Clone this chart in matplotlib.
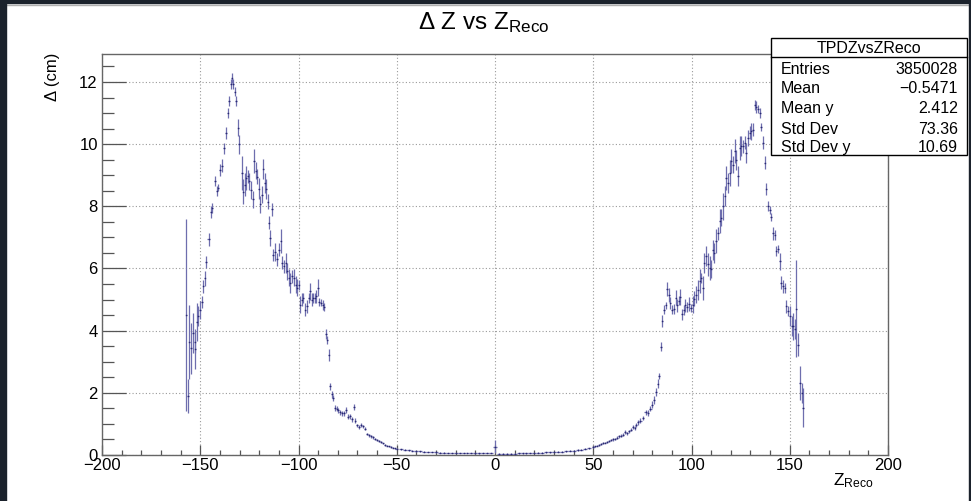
import numpy as np
import matplotlib
matplotlib.use("Agg")
import matplotlib.pyplot as plt
from matplotlib.patches import Rectangle
from matplotlib.lines import Line2D
from matplotlib.ticker import MultipleLocator

plt.rcParams['font.family'] = ['Liberation Sans', 'DejaVu Sans']
plt.rcParams['mathtext.fontset'] = 'custom'
plt.rcParams['mathtext.rm'] = 'Liberation Sans'
plt.rcParams['mathtext.it'] = 'Liberation Sans'
plt.rcParams['mathtext.bf'] = 'Liberation Sans:bold'

# profile TPDZvsZReco : bin centre (cm), mean delta (cm), error on mean
z_reco = [
    -157.0, -156.3, -155.6, -154.8, -153.9, -152.9, -152.5, -151.8, -151.2, -150.3,
    -149.2, -148.5, -147.8, -146.9, -145.8, -144.4, -143.9, -142.7, -141.7, -141.0,
    -139.8, -139.0, -137.8, -136.9, -136.1, -135.2, -134.4, -133.9, -133.2, -132.5,
    -131.8, -130.6, -130.1, -128.8, -128.1, -127.4, -126.7, -125.9, -125.0, -124.0,
    -123.2, -122.7, -121.8, -121.2, -120.3, -119.4, -118.6, -117.9, -117.2, -116.5,
    -115.7, -115.2,
    -114.4, -113.5, -113.0, -112.2, -111.0, -110.0, -109.1, -108.3, -107.6, -106.6,
    -105.7, -104.9, -104.2, -103.2, -102.4, -101.5, -100.7, -100.0, -99.0, -98.1,
    -97.5, -96.5, -95.8, -94.9, -94.1, -93.2, -92.4, -91.6, -91.0, -90.2,
    -89.4, -88.5, -87.7, -86.8, -86.0, -85.3, -84.6, -84.0, -83.1, -82.3,
    -81.4, -80.5, -79.7, -78.9, -77.8, -76.9, -75.9, -75.0,
    -74, -73, -72, -71, -70, -69, -68, -67, -66, -65,
    -64, -63, -62, -61, -60, -59, -58, -57, -56, -55,
    -54, -53, -52, -51, -50,
    -48, -46, -44, -42, -40, -38, -36, -34, -32, -30,
    -28, -26, -24, -22, -20, -18, -16, -14, -12, -10,
    -8, -6, -4, -2, 0,
    2, 4, 6, 8, 10, 12, 14, 16, 18, 20,
    22, 24, 26, 28, 30, 32, 34, 36, 38, 40,
    42, 44, 46, 48,
    50, 51, 52, 53, 54, 55, 56, 57, 58, 59,
    60, 61, 62, 63, 64, 65, 66, 67, 68, 69,
    70, 71, 72, 73, 74,
    75.4, 76.7, 77.9, 79.1, 80.1, 81.0, 81.8, 82.7, 83.5, 84.4,
    85.2, 86.1, 86.8, 87.6, 88.5, 89.3, 90.2, 91.0, 91.9, 92.7,
    93.5, 94.4, 95.2, 96.1, 96.9, 97.8, 98.6, 99.5,
    100.7, 101.5, 102.4, 103.2, 104.1, 104.9, 105.8, 106.6, 107.5, 108.3,
    109.2, 110.0, 110.9, 111.7, 112.6, 113.4, 114.3, 115.1, 116.0, 116.8,
    117.7, 118.5, 119.4, 120.2, 121.1, 121.9, 122.8, 123.6, 124.5, 125.3,
    126.2, 127.0, 127.9, 128.7, 129.6, 130.4, 131.3, 132.1, 133.0, 133.8,
    134.7, 135.5, 136.4, 137.2, 138.1, 138.9, 139.8, 140.6, 141.5, 142.3,
    143.2, 144.0, 144.9, 145.7, 146.6, 147.4, 148.3, 149.1, 150.0, 150.9,
    151.7, 152.6, 153.4, 154.3, 155.1, 156.0, 156.8,
]

delta_z = [
    4.50, 1.90, 3.64, 3.43, 3.93, 3.64, 3.40, 4.28, 4.47, 4.66,
    4.93, 5.43, 5.68, 6.22, 6.94, 7.83, 7.95, 8.81, 8.49, 8.60,
    9.17, 9.30, 9.86, 10.35, 11.01, 11.39, 11.92, 12.14, 11.92, 11.69,
    11.39, 10.53, 9.99, 9.08, 8.47, 8.70, 8.92, 8.97, 8.81, 8.52,
    8.22, 9.46, 9.14, 8.95, 8.57, 8.06, 8.38, 9.19, 8.76, 8.55,
    8.15, 7.47,
    6.98, 7.90, 6.43, 6.53, 6.29, 6.60, 6.88, 6.18, 6.07, 6.18,
    5.91, 5.70, 5.54, 5.75, 5.70, 5.48, 5.38, 5.48, 4.84, 5.00,
    5.05, 4.68, 4.79, 5.05, 5.27, 5.00, 5.05, 5.05, 5.10, 5.38,
    4.93, 4.90, 4.84, 4.77, 3.88, 3.70, 3.21, 2.21, 1.95, 1.84,
    1.52, 1.49, 1.44, 1.38, 1.34, 1.34, 1.46, 1.23,
    1.25, 1.15, 1.55, 1.10, 0.95, 0.90, 0.97, 0.92, 0.85, 0.68,
    0.63, 0.60, 0.57, 0.52, 0.48, 0.44, 0.41, 0.37, 0.33, 0.30,
    0.28, 0.26, 0.24, 0.22, 0.20,
    0.18, 0.17, 0.15, 0.14, 0.12, 0.12, 0.11, 0.10, 0.10, 0.09,
    0.08, 0.08, 0.07, 0.07, 0.065, 0.065, 0.06, 0.06, 0.06, 0.055,
    0.055, 0.06, 0.06, 0.06, 0.27,
    0.04, 0.04, 0.04, 0.045, 0.045, 0.05, 0.05, 0.055, 0.06, 0.065,
    0.075, 0.08, 0.085, 0.09, 0.10, 0.10, 0.11, 0.12, 0.13, 0.14,
    0.16, 0.17, 0.20, 0.22,
    0.26, 0.28, 0.30, 0.33, 0.36, 0.38, 0.40, 0.43, 0.45, 0.48,
    0.50, 0.52, 0.56, 0.60, 0.62, 0.65, 0.74, 0.70, 0.76, 0.82,
    0.90, 0.86, 0.97, 1.05, 1.10,
    1.19, 1.38, 1.35, 1.49, 1.62, 1.76, 2.03, 2.30, 2.54, 3.49,
    4.30, 4.68, 4.81, 5.35, 5.14, 4.90, 4.68, 4.70, 5.06, 4.81,
    4.97, 5.08, 4.52, 4.65, 4.81, 4.76, 4.86, 4.73,
    4.84, 5.02, 5.16, 5.32, 5.59, 5.70, 5.38, 6.18, 6.39, 6.13,
    6.02, 5.99, 6.60, 6.50, 6.88, 7.14, 7.52, 7.63, 8.00, 8.32,
    8.91, 8.75, 9.07, 9.45, 9.34, 9.77, 9.50, 8.97, 9.88, 9.93,
    9.93, 10.04, 9.72, 10.20, 10.36, 10.41, 10.47, 11.27, 11.20, 11.13,
    11.00, 10.55, 10.04, 9.40, 8.56, 8.00, 7.87, 7.66, 7.14, 7.09,
    6.56, 6.63, 6.23, 5.54, 5.43, 5.38, 4.79, 4.63, 4.47, 4.14,
    4.14, 4.04, 4.71, 3.55, 2.32, 2.00, 1.52,
]

delta_err = [
    3.10, 0.56, 1.20, 0.83, 0.64, 0.35, 0.64, 0.62, 0.32, 0.30,
    0.19, 0.21, 0.24, 0.19, 0.21, 0.19, 0.16, 0.16, 0.16, 0.11,
    0.19, 0.21, 0.19, 0.19, 0.16, 0.16, 0.16, 0.16, 0.16, 0.14,
    0.16, 0.27, 0.32, 0.54, 0.40, 0.38, 0.38, 0.21, 0.27, 0.30,
    0.27, 0.38, 0.27, 0.24, 0.35, 0.27, 0.27, 0.32, 0.32, 0.32,
    0.24, 0.21,
    0.27, 0.21, 0.19, 0.30, 0.21, 0.21, 0.38, 0.21, 0.21, 0.32,
    0.27, 0.27, 0.32, 0.21, 0.27, 0.27, 0.27, 0.16, 0.27, 0.21,
    0.16, 0.21, 0.21, 0.16, 0.27, 0.21, 0.16, 0.16, 0.21, 0.27,
    0.13, 0.11, 0.16, 0.13, 0.16, 0.13, 0.19, 0.11, 0.11, 0.10,
    0.10, 0.08, 0.08, 0.08, 0.08, 0.08, 0.10, 0.08,
    0.08, 0.08, 0.10, 0.08, 0.06, 0.06, 0.06, 0.05, 0.05, 0.04,
    0.04, 0.04, 0.04, 0.04, 0.03, 0.03, 0.03, 0.03, 0.03, 0.02,
    0.02, 0.02, 0.02, 0.02, 0.02,
    0.015, 0.015, 0.015, 0.015, 0.015, 0.01, 0.01, 0.01, 0.01, 0.01,
    0.01, 0.01, 0.01, 0.01, 0.01, 0.01, 0.01, 0.01, 0.01, 0.01,
    0.01, 0.01, 0.01, 0.01, 0.22,
    0.01, 0.01, 0.01, 0.01, 0.01, 0.01, 0.01, 0.01, 0.01, 0.01,
    0.01, 0.01, 0.01, 0.01, 0.01, 0.015, 0.015, 0.015, 0.015, 0.015,
    0.02, 0.02, 0.02, 0.02,
    0.02, 0.02, 0.02, 0.03, 0.03, 0.03, 0.03, 0.03, 0.03, 0.04,
    0.04, 0.04, 0.04, 0.05, 0.05, 0.05, 0.06, 0.05, 0.06, 0.06,
    0.07, 0.06, 0.07, 0.07, 0.08,
    0.06, 0.08, 0.11, 0.08, 0.11, 0.13, 0.13, 0.13, 0.11, 0.14,
    0.19, 0.14, 0.11, 0.22, 0.22, 0.19, 0.14, 0.16, 0.24, 0.22,
    0.16, 0.27, 0.19, 0.16, 0.22, 0.16, 0.22, 0.14,
    0.27, 0.24, 0.27, 0.32, 0.38, 0.16, 0.38, 0.32, 0.32, 0.38,
    0.38, 0.29, 0.32, 0.32, 0.38, 0.21, 0.38, 0.27, 0.43, 0.32,
    0.38, 0.32, 0.43, 0.38, 0.27, 0.38, 0.32, 0.32, 0.38, 0.32,
    0.21, 0.21, 0.32, 0.27, 0.21, 0.27, 0.21, 0.16, 0.19, 0.13,
    0.16, 0.13, 0.21, 0.21, 0.19, 0.16, 0.13, 0.13, 0.21, 0.16,
    0.16, 0.13, 0.27, 0.21, 0.21, 0.16, 0.21, 0.16, 0.32, 0.32,
    0.43, 0.32, 1.56, 0.38, 0.54, 0.32, 0.62,
]

stat_names = ['Entries', 'Mean', 'Mean y', 'Std Dev', 'Std Dev y']
stat_values = ['3850028', '\u22120.5471', '2.412', '73.36', '10.69']

W, H = 971, 501


def fx(px):
    return px / W


def fy(py):
    return 1 - py / H


def main():

    z = np.array(z_reco, dtype=float)
    d = np.array(delta_z, dtype=float)
    e = np.array(delta_err, dtype=float)
    half_w = np.minimum(np.gradient(z) / 2, 1.0)

    fig = plt.figure(figsize=(W / 100, H / 100), dpi=100)
    fig.patch.set_facecolor('white')

    ax = fig.add_axes([fx(102), fy(455), (888 - 102) / W, (455 - 54) / H])

    ax.errorbar(z, d, yerr=e, xerr=half_w, fmt='none',
                ecolor='#6e6eae', elinewidth=0.9, capsize=0, zorder=3)
    ax.plot(z, d, ls='none', marker='s', ms=1.0, mew=0, color='#2a2a72', zorder=4)

    ax.set_xlim(-200, 200)
    ax.set_ylim(0, 12.9)

    ax.xaxis.set_major_locator(MultipleLocator(50))
    ax.xaxis.set_minor_locator(MultipleLocator(10))
    ax.yaxis.set_major_locator(MultipleLocator(2))
    ax.yaxis.set_minor_locator(MultipleLocator(0.5))

    ax.tick_params(which='both', direction='in', top=False, right=False,
                   color='#555555', labelcolor='black', labelsize=12, width=0.9)
    ax.tick_params(axis='y', which='major', length=17, pad=3)
    ax.tick_params(axis='y', which='minor', length=8.5)
    ax.tick_params(axis='x', which='major', length=7, pad=2)
    ax.tick_params(axis='x', which='minor', length=3.6)

    ax.grid(which='major', ls=(0, (1, 2)), color='#9a9a9a', lw=0.8)
    ax.set_axisbelow(True)
    for sp in ax.spines.values():
        sp.set_color('#666666')
        sp.set_linewidth(1.0)

    # titles
    fig.text(fx(484), fy(29), '\u0394 Z vs Z$_{\\mathrm{Reco}}$',
             ha='center', va='baseline', fontsize=17.5)
    fig.text(fx(52), fy(53), '\u0394 (cm)', rotation=90,
             ha='center', va='top', fontsize=12)
    fig.text(fx(874), fy(485), 'Z$_{\\mathrm{Reco}}$',
             ha='right', va='baseline', fontsize=12.5)

    # stats box
    fig.patches.append(Rectangle((fx(771), fy(155)), (967 - 771) / W, (155 - 38) / H,
                                 transform=fig.transFigure, facecolor='white',
                                 edgecolor='black', lw=1.0, zorder=5))
    fig.lines.append(Line2D([fx(771), fx(967)], [fy(57), fy(57)],
                            transform=fig.transFigure, color='black', lw=1.0, zorder=6))
    fig.text(fx(869), fy(53), 'TPDZvsZReco', ha='center', va='baseline',
             fontsize=11.5, zorder=7)
    rows_y = [74, 93.5, 113, 134, 152.5]
    for name, val, yy in zip(stat_names, stat_values, rows_y):
        fig.text(fx(781), fy(yy), name, ha='left', va='baseline', fontsize=11.5, zorder=7)
        fig.text(fx(958), fy(yy), val, ha='right', va='baseline', fontsize=11.5, zorder=7)

    # dark window border
    dark = '#1b222c'
    fig.patches.append(Rectangle((0, fy(3)), 1, 3 / H, transform=fig.transFigure,
                                 color=dark, zorder=8))
    fig.patches.append(Rectangle((0, 0), 6 / W, 1, transform=fig.transFigure,
                                 color=dark, zorder=8))
    fig.patches.append(Rectangle((fx(969), 0), 2 / W, 1, transform=fig.transFigure,
                                 color=dark, zorder=8))
    fig.lines.append(Line2D([fx(6), fx(969)], [fy(4.5), fy(4.5)],
                            transform=fig.transFigure, color='#b0b0b0', lw=1.0, zorder=8))

    plt.savefig('out.png', dpi=100)
    plt.close()


if __name__ == "__main__":
    main()
